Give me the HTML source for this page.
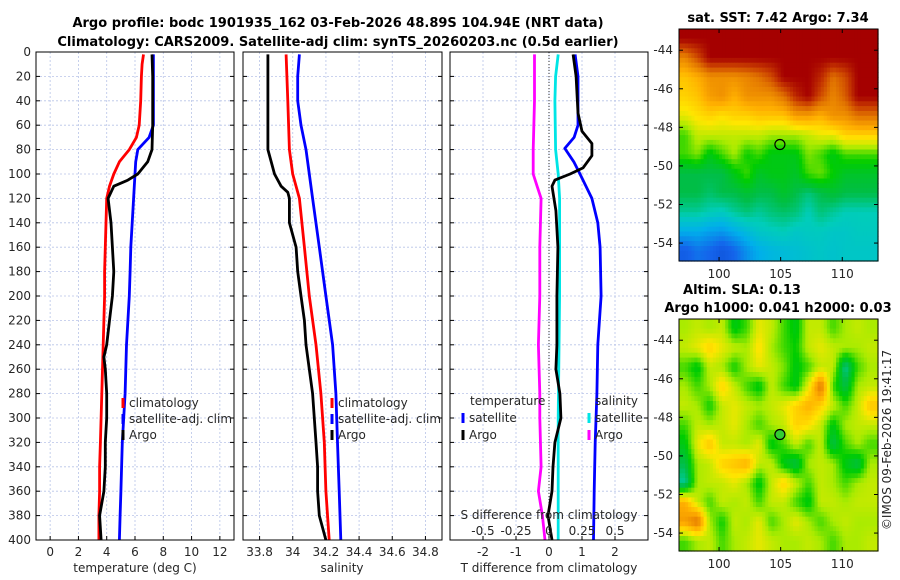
<!DOCTYPE html>
<html><head><meta charset="utf-8">
<style>
body{margin:0;background:#fff;}
svg{display:block;font-family:"DejaVu Sans","Liberation Sans",sans-serif;}
.t{font-weight:bold;font-size:13px;}
.lab{font-size:12px;fill:#262626;}
</style></head>
<body>
<svg id="fig" width="900" height="580" viewBox="0 0 900 580">
<text class="t" x="338" y="27" text-anchor="middle">Argo profile: bodc 1901935_162 03-Feb-2026 48.89S 104.94E (NRT data)</text>
<text class="t" x="338" y="46" text-anchor="middle">Climatology: CARS2009. Satellite-adj clim: synTS_20260203.nc (0.5d earlier)</text>
<text class="t" x="778" y="22" text-anchor="middle">sat. SST: 7.42 Argo: 7.34</text>
<text class="t" x="742" y="294" text-anchor="middle">Altim. SLA: 0.13</text>
<text class="t" x="778" y="312" text-anchor="middle">Argo h1000: 0.041 h2000: 0.03</text>
<text class="lab" transform="translate(891,440) rotate(-90)" text-anchor="middle">©IMOS 09-Feb-2026 19:41:17</text>
<g id="plots"></g>
</svg>
<script>
// ---- data ----
const tDepth = [2,10,20,40,60,70,80,90,100,110,120,140,160,180,200,220,240,260,280,300,320,340,360,380,400];
const tClim  = [6.6,6.5,6.45,6.4,6.3,6.1,5.6,4.9,4.5,4.2,4.0,3.95,3.9,3.85,3.85,3.8,3.75,3.7,3.65,3.6,3.55,3.5,3.5,3.45,3.45];
const tSat   = [7.3,7.3,7.3,7.3,7.3,7.0,6.2,6.05,6.0,5.95,5.9,5.8,5.7,5.65,5.6,5.5,5.4,5.35,5.3,5.2,5.1,5.05,5.0,4.95,4.9];
const aDepth = [2,20,40,60,80,90,100,105,110,120,140,160,180,200,220,240,250,260,280,300,320,340,360,380,400];
const tArgo  = [7.2,7.25,7.25,7.25,7.2,6.9,6.2,5.5,4.5,4.1,4.3,4.4,4.5,4.4,4.2,4.0,3.8,3.9,4.0,4.0,3.9,3.9,3.8,3.5,3.6];
const sDepth = [2,40,80,100,120,160,200,240,280,320,360,400];
const sClim  = [33.96,33.97,33.98,34.0,34.04,34.07,34.1,34.14,34.17,34.19,34.2,34.22];
const sSatDepth = [2,20,40,60,80,100,120,160,200,240,280,320,360,400];
const sSat   = [34.04,34.03,34.03,34.05,34.08,34.1,34.12,34.16,34.2,34.24,34.26,34.27,34.28,34.29];
const sArgoDepth = [2,80,90,100,110,115,120,140,160,180,200,220,240,260,280,300,320,340,360,380,400];
const sArgo  = [33.85,33.85,33.87,33.89,33.93,33.97,33.98,33.98,34.02,34.03,34.05,34.07,34.08,34.1,34.12,34.13,34.14,34.15,34.15,34.16,34.2];
const dDepth = [2,20,50,65,75,85,95,100,105,110,130,160,200,240,260,280,300,320,340,360,380,400];
const dTArgo = [0.73,0.82,0.88,1.0,1.3,1.3,1.03,0.64,0.18,0.09,0.21,0.27,0.24,0.24,0.21,0.33,0.36,0.18,0.12,0.09,-0.03,0.09];
const dTSatDepth = [2,20,60,70,79,90,100,120,140,160,200,240,280,320,360,400];
const dTSat  = [0.79,0.88,0.88,0.76,0.48,0.75,0.94,1.3,1.48,1.55,1.58,1.48,1.45,1.4,1.37,1.35];
const dSDepth = [2,20,40,80,100,120,200,300,400];
const dSSat  = [0.07,0.05,0.045,0.05,0.07,0.08,0.08,0.07,0.07];
const dSArgoDepth = [2,40,80,100,110,120,160,200,240,280,300,340,360,380,400];
const dSArgo = [-0.11,-0.11,-0.12,-0.12,-0.09,-0.06,-0.07,-0.07,-0.08,-0.07,-0.07,-0.06,-0.08,-0.05,-0.03];
const depthTicks = [0,20,40,60,80,100,120,140,160,180,200,220,240,260,280,300,320,340,360,380,400];
const tTicks = [0,2,4,6,8,10,12];
const sTicks = [33.8,34,34.2,34.4,34.6,34.8];
const dTTicks = [-2,-1,0,1,2];
const dSTicks = [-0.5,-0.25,0,0.25,0.5];
const dSTickLabels = ['-0.5','-0.25','0','0.25','0.5'];
// map data (rows from north to south, 1 deg cells, centres at lat -43.4..-54.4, lon 97.25..112.25)
const sstGrid = [
[1,1,1,1,1,1,1,1,1,1,1,1,1,1,1,1],
[0.82,0.9,1,1,1,1,1,1,1,1,1,1,1,1,1,1],
[0.72,0.75,0.8,0.8,0.8,0.82,0.85,0.9,1,1,1,0.95,0.85,0.9,1,1],
[0.7,0.72,0.78,0.8,0.75,0.8,0.8,0.8,0.85,0.95,1,0.9,0.82,0.88,1,1],
[0.65,0.68,0.7,0.68,0.7,0.7,0.72,0.72,0.72,0.78,0.78,0.75,0.8,0.8,0.85,0.85],
[0.55,0.62,0.62,0.62,0.62,0.62,0.62,0.6,0.6,0.6,0.62,0.65,0.65,0.7,0.7,0.7],
[0.55,0.58,0.5,0.55,0.6,0.52,0.55,0.5,0.5,0.5,0.58,0.55,0.5,0.55,0.55,0.55],
[0.45,0.45,0.45,0.45,0.5,0.55,0.48,0.5,0.5,0.48,0.55,0.57,0.52,0.48,0.48,0.48],
[0.45,0.45,0.43,0.45,0.45,0.47,0.45,0.45,0.48,0.45,0.42,0.45,0.47,0.45,0.45,0.45],
[0.4,0.4,0.38,0.37,0.4,0.42,0.4,0.42,0.43,0.42,0.38,0.42,0.4,0.38,0.38,0.38],
[0.3,0.3,0.28,0.27,0.3,0.33,0.36,0.37,0.38,0.36,0.37,0.37,0.36,0.36,0.37,0.37],
[0.18,0.22,0.2,0.16,0.2,0.26,0.3,0.32,0.33,0.34,0.35,0.36,0.35,0.36,0.36,0.36]];
const slaGrid = [
[0.6,0.62,0.6,0.62,0.5,0.55,0.65,0.62,0.55,0.5,0.62,0.62,0.55,0.6,0.62,0.6],
[0.62,0.65,0.7,0.65,0.62,0.6,0.68,0.6,0.55,0.52,0.62,0.65,0.62,0.6,0.6,0.62],
[0.55,0.5,0.62,0.6,0.52,0.6,0.65,0.62,0.58,0.5,0.55,0.62,0.62,0.4,0.55,0.6],
[0.6,0.55,0.6,0.7,0.62,0.55,0.5,0.62,0.55,0.5,0.65,0.85,0.55,0.45,0.6,0.62],
[0.62,0.6,0.52,0.62,0.65,0.62,0.6,0.62,0.65,0.7,0.75,0.7,0.62,0.55,0.62,0.72],
[0.55,0.62,0.6,0.62,0.65,0.6,0.55,0.6,0.62,0.7,0.68,0.62,0.5,0.6,0.62,0.62],
[0.5,0.65,0.72,0.62,0.62,0.6,0.65,0.5,0.55,0.62,0.55,0.62,0.45,0.55,0.6,0.55],
[0.45,0.6,0.62,0.7,0.72,0.75,0.62,0.62,0.5,0.45,0.6,0.62,0.6,0.5,0.45,0.6],
[0.4,0.6,0.62,0.62,0.65,0.6,0.5,0.62,0.7,0.62,0.55,0.62,0.6,0.55,0.6,0.62],
[0.75,0.62,0.55,0.62,0.6,0.62,0.55,0.62,0.62,0.55,0.5,0.62,0.62,0.6,0.62,0.62],
[0.78,0.85,0.6,0.52,0.62,0.6,0.65,0.55,0.6,0.65,0.6,0.55,0.6,0.62,0.6,0.6],
[0.55,0.6,0.62,0.55,0.6,0.62,0.65,0.62,0.6,0.6,0.62,0.6,0.55,0.6,0.6,0.62]];
const latTicks = [-44,-46,-48,-50,-52,-54];
const lonTicks = [100,105,110];
const argoLon = 104.94, argoLat = -48.89;

const NS='http://www.w3.org/2000/svg';
const root=document.getElementById('plots');
function el(tag,attrs,parent,txt){const e=document.createElementNS(NS,tag);for(const k in attrs)e.setAttribute(k,attrs[k]);if(txt!==undefined)e.textContent=txt;(parent||root).appendChild(e);return e;}
const PT=52, PB=540;
const yD=d=>PT+(d/400)*(PB-PT);
function lin(d0,d1,r0,r1){return v=>r0+(v-d0)/(d1-d0)*(r1-r0);}

function panel(name,x0,x1,xs,xTicks,xLabels,showY){
  const g=el('g',{});
  
  
  xTicks.forEach(v=>{const x=xs(v);const l=el('line',{x1:x,x2:x,y1:PT,y2:PB,stroke:'#b8c4e8','stroke-width':0.8,'stroke-dasharray':'2,2'},g);
    });
  depthTicks.forEach(d=>{const y=yD(d);const l=el('line',{x1:x0,x2:x1,y1:y,y2:y,stroke:'#b8c4e8','stroke-width':0.8,'stroke-dasharray':'2,2'},g);
    
    el('line',{x1:x0,x2:x0+4,y1:y,y2:y,stroke:'#000'},g);el('line',{x1:x1-4,x2:x1,y1:y,y2:y,stroke:'#000'},g);
    if(showY){const t=el('text',{x:x0-5,y:y+4,'text-anchor':'end',class:'lab'},g,String(d));
      }});
  xTicks.forEach((v,i)=>{const x=xs(v);el('line',{x1:x,x2:x,y1:PB,y2:PB-4,stroke:'#000'},g);
    const t=el('text',{x:x,y:556,'text-anchor':'middle',class:'lab'},g,xLabels[i]);
    });
  return g;
}
function frame(g,x0,x1){const r=el('rect',{x:x0,y:PT,width:x1-x0,height:PB-PT,fill:'none',stroke:'#000','stroke-width':1},g);
  }
function line(g,name,xs,vals,deps,color){
  const p=el('polyline',{points:vals.map((v,i)=>xs(v).toFixed(1)+','+yD(deps[i]).toFixed(1)).join(' '),fill:'none',stroke:color,'stroke-width':2.8,'stroke-linejoin':'round'},g);
  }
function legendEntry(g,name,x,y,color,text){
  const gg=el('g',{},g);
  
  el('line',{x1:x,x2:x,y1:y-9,y2:y+1,stroke:color,'stroke-width':3},gg);
  el('text',{x:x+6,y:y,class:'lab','font-size':'13px'},gg,text);}

// Panel 1: temperature
const xT=lin(-1,13,36,234);
let g1=panel('temperature-panel',36,234,xT,tTicks,tTicks.map(String),true);
line(g1,'temperature-climatology-line',xT,tClim,tDepth,'#ff0000');
line(g1,'temperature-satellite-line',xT,tSat,tDepth,'#0000ff');
line(g1,'temperature-argo-line',xT,tArgo,aDepth,'#000000');
frame(g1,36,234);
legendEntry(g1,'legend-climatology',123,407,'#ff0000','climatology');
legendEntry(g1,'legend-satellite-adj-clim',123,423,'#0000ff','satellite-adj. clim');
legendEntry(g1,'legend-argo',123,439,'#000000','Argo');
let t1=el('text',{x:135,y:572,'text-anchor':'middle',class:'lab','font-size':'13px'},g1,'temperature (deg C)');


// Panel 2: salinity
const xS=lin(33.7,34.9,243,442);
let g2=panel('salinity-panel',243,442,xS,sTicks,sTicks.map(String),false);
line(g2,'salinity-climatology-line',xS,sClim,sDepth,'#ff0000');
line(g2,'salinity-satellite-line',xS,sSat,sSatDepth,'#0000ff');
line(g2,'salinity-argo-line',xS,sArgo,sArgoDepth,'#000000');
frame(g2,243,442);
legendEntry(g2,'legend-climatology-sal',332,407,'#ff0000','climatology');
legendEntry(g2,'legend-satellite-adj-clim-sal',332,423,'#0000ff','satellite-adj. clim');
legendEntry(g2,'legend-argo-sal',332,439,'#000000','Argo');
let t2=el('text',{x:342,y:572,'text-anchor':'middle',class:'lab','font-size':'13px'},g2,'salinity');


// Panel 3: differences
const xD=lin(-3,3,450,648);
const xDS=lin(-0.75,0.75,450,648);
let g3=panel('difference-panel',450,648,xD,dTTicks,dTTicks.map(String),false);
const zl=el('line',{x1:xD(0),x2:xD(0),y1:PT,y2:PB,stroke:'#333','stroke-width':1,'stroke-dasharray':'1,2'},g3);

line(g3,'salinity-argo-diff-line',xDS,dSArgo,dSArgoDepth,'#ff00ff');
line(g3,'salinity-satellite-diff-line',xDS,dSSat,dSDepth,'#00e5e5');
line(g3,'temperature-satellite-diff-line',xD,dTSat,dTSatDepth,'#0000ff');
line(g3,'temperature-argo-diff-line',xD,dTArgo,dDepth,'#000000');
frame(g3,450,648);
let lt=el('text',{x:470,y:405,class:'lab','font-size':'13px'},g3,'temperature');

let ls=el('text',{x:595,y:405,class:'lab','font-size':'13px'},g3,'salinity');

legendEntry(g3,'legend-t-satellite',463,422,'#0000ff','satellite');
legendEntry(g3,'legend-t-argo',463,439,'#000000','Argo');
legendEntry(g3,'legend-s-satellite',589,422,'#00e5e5','satellite');
legendEntry(g3,'legend-s-argo',589,439,'#ff00ff','Argo');
let st=el('text',{x:549,y:519,'text-anchor':'middle',class:'lab','font-size':'13px'},g3,'S difference from climatology');

dSTicks.forEach((v,i)=>{const t=el('text',{x:xDS(v),y:535,'text-anchor':'middle',class:'lab'},g3,dSTickLabels[i]);
  });
let t3=el('text',{x:549,y:572,'text-anchor':'middle',class:'lab','font-size':'13px'},g3,'T difference from climatology');


// Maps
const stops=[[0,[0,40,180]],[0.2,[20,100,235]],[0.3,[0,175,235]],[0.38,[0,205,185]],[0.45,[0,190,70]],[0.52,[0,205,0]],[0.6,[170,235,0]],[0.67,[255,230,0]],[0.75,[255,175,0]],[0.85,[225,115,0]],[0.92,[200,60,0]],[1,[165,0,0]]];
function cmap(v){v=Math.max(0,Math.min(1,v));for(let i=1;i<stops.length;i++){if(v<=stops[i][0]){const a=stops[i-1],b=stops[i];const f=(v-a[0])/(b[0]-a[0]);
  return 'rgb('+a[1].map((c,k)=>Math.round(c+(b[1][k]-c)*f)).join(',')+')';}}return 'rgb(165,0,0)';}
function sample(grid,fr,fc){ // bilinear on cell centres
  const R=grid.length,C=grid[0].length;
  fr=Math.max(0,Math.min(R-1,fr));fc=Math.max(0,Math.min(C-1,fc));
  const r0=Math.floor(fr),c0=Math.floor(fc),r1=Math.min(R-1,r0+1),c1=Math.min(C-1,c0+1);
  const a=fr-r0,b=fc-c0;
  return grid[r0][c0]*(1-a)*(1-b)+grid[r0][c1]*(1-a)*b+grid[r1][c0]*a*(1-b)+grid[r1][c1]*a*b;}
function map(name,grid,top,bottom,dotFill){
  const g=el('g',{});
  const L=679,R=878;const xl=lin(96.75,112.9,L,R);const yl=lin(-42.9,-54.93,top,bottom);
  const SUB=4, step=1/SUB;
  for(let lat=-42.9;lat>-54.93;lat-=step){
    for(let lon=96.75;lon<112.9;lon+=step){
      const cLat=lat-step/2,cLon=lon+step/2;
      const v=sample(grid,(-42.9-cLat)-0.5,(cLon-96.75)-0.5);
      const x0=xl(lon),x1=Math.min(xl(lon+step),R),y0=yl(lat),y1=Math.min(yl(lat-step),bottom);
      const rc=el('rect',{x:x0.toFixed(1),y:y0.toFixed(1),width:(x1-x0+0.6).toFixed(1),height:(y1-y0+0.6).toFixed(1),fill:cmap(v)},g);
      
      
    }
  }
  el('rect',{x:L,y:top,width:R-L,height:bottom-top,fill:'none',stroke:'#000'},g);
  latTicks.forEach(v=>{const y=yl(v);el('line',{x1:L,x2:L+4,y1:y,y2:y,stroke:'#000'},g);el('line',{x1:R-4,x2:R,y1:y,y2:y,stroke:'#000'},g);
    const t=el('text',{x:L-6,y:y+4,'text-anchor':'end',class:'lab'},g,String(v));});
  lonTicks.forEach(v=>{const x=xl(v);el('line',{x1:x,x2:x,y1:bottom,y2:bottom-4,stroke:'#000'},g);el('line',{x1:x,x2:x,y1:top,y2:top+4,stroke:'#000'},g);
    const t=el('text',{x:x,y:bottom+17,'text-anchor':'middle',class:'lab'},g,String(v));});
  const c=el('circle',{cx:xl(argoLon),cy:yl(argoLat),r:5,fill:dotFill,stroke:'#000','stroke-width':1.2},g);
  
}
map('sst-map',sstGrid,29,261,'none');
map('sla-map',slaGrid,319,551,'#33cc33');
</script>
</body></html>
